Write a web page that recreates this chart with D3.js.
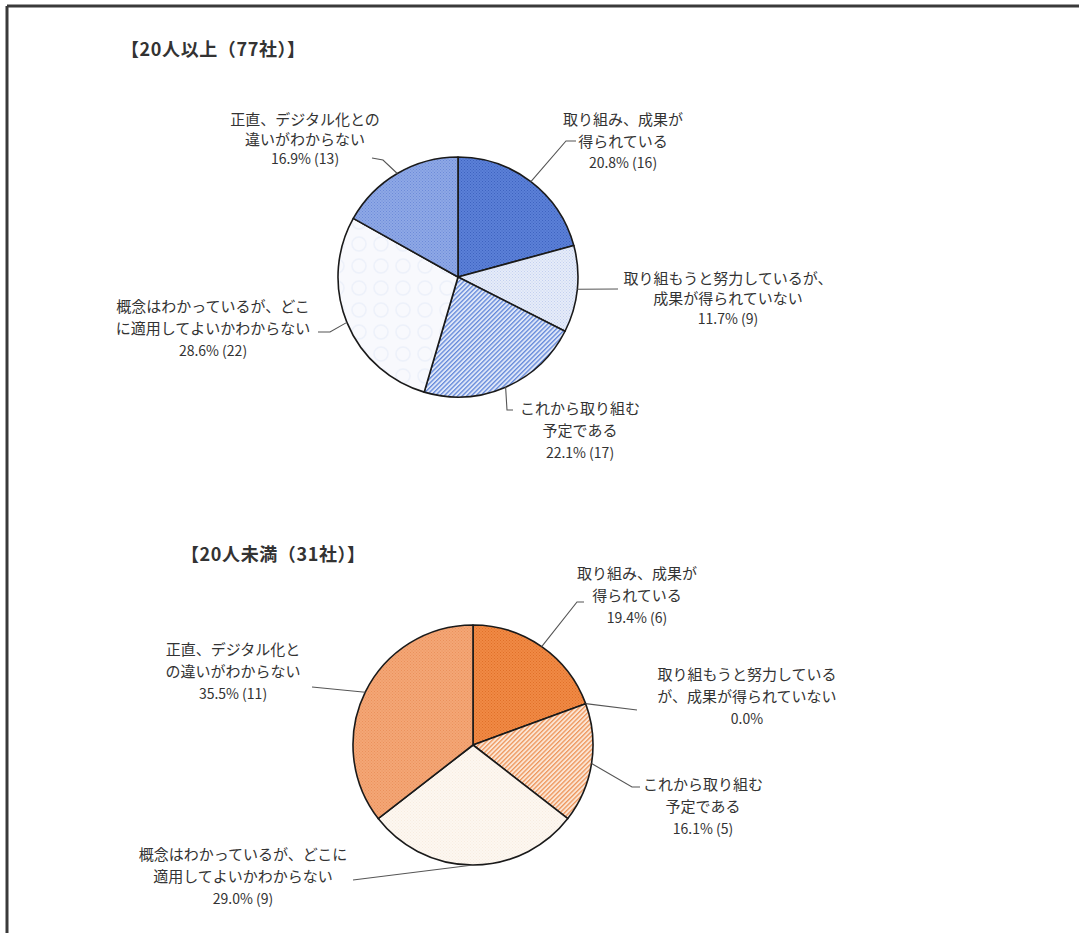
<!DOCTYPE html>
<html lang="ja">
<head>
<meta charset="utf-8">
<script src="https://cdn.jsdelivr.net/npm/d3@7"></script>
<style>
  html, body { margin: 0; padding: 0; background: #ffffff; }
  svg { display: block; }
  text { font-family: "Noto Sans CJK JP", "Noto Sans", sans-serif; fill: #333333; }
</style>
</head>
<body>
<svg id="chart" width="1079" height="933"></svg>
<script>
// ---- data ----
const titleTop = "【20人以上（77社）】";
const titleBottom = "【20人未満（31社）】";

// answers, in clockwise order from 12 o'clock
const categories = [
  "取り組み、成果が得られている",
  "取り組もうと努力しているが、成果が得られていない",
  "これから取り組む予定である",
  "概念はわかっているが、どこに適用してよいかわからない",
  "正直、デジタル化との違いがわからない"
];

// 20人以上
const countsTop  = [16, 9, 17, 22, 13];
const percentTop = [20.8, 11.7, 22.1, 28.6, 16.9];
const linesTop = [
  ["取り組み、成果が", "得られている"],
  ["取り組もうと努力しているが、", "成果が得られていない"],
  ["これから取り組む", "予定である"],
  ["概念はわかっているが、どこ", "に適用してよいかわからない"],
  ["正直、デジタル化との", "違いがわからない"]
];

// 20人未満
const countsBottom  = [6, 0, 5, 9, 11];
const percentBottom = [19.4, 0.0, 16.1, 29.0, 35.5];
const linesBottom = [
  ["取り組み、成果が", "得られている"],
  ["取り組もうと努力している", "が、成果が得られていない"],
  ["これから取り組む", "予定である"],
  ["概念はわかっているが、どこに", "適用してよいかわからない"],
  ["正直、デジタル化と", "の違いがわからない"]
];

// ---- layout ----
const radius = 120;
const pieTop    = { cx: 458, cy: 277, title: [121, 48] };
const pieBottom = { cx: 473, cy: 745, title: [181, 553] };

// label block: first-line centre (x,y), line step, leader bends after the edge point
const labelTop = [
  { x: 623, y: 118, step: 22, bends: [[566, 141], [576, 141]] },
  { x: 728, y: 277, step: 20.5, bends: [[618, 289]] },
  { x: 580, y: 407, step: 22.5, bends: [[507, 410], [513, 410]] },
  { x: 213, y: 305, step: 22.5, bends: [[330, 332], [318, 332]] },
  { x: 305, y: 118, step: 20, bends: [[383, 160], [372, 158]] }
];
const labelBottom = [
  { x: 637, y: 572, step: 22.5, bends: [[577, 602], [584, 602]] },
  { x: 747, y: 673, step: 22.5, bends: [[637, 710]] },
  { x: 703, y: 783, step: 22.5, bends: [[632, 787], [640, 787]] },
  { x: 243, y: 853, step: 22.5, bends: [[353, 880]] },
  { x: 233, y: 648, step: 22.5, bends: [[312, 687]] }
];

const svg = d3.select("#chart");
const defs = svg.append("defs");

// ---- fill textures ----
function dotPattern(id, bg, dot) {
  const p = defs.append("pattern").attr("id", id)
    .attr("patternUnits", "userSpaceOnUse").attr("width", 3).attr("height", 3);
  p.append("rect").attr("width", 3).attr("height", 3).attr("fill", bg);
  p.append("rect").attr("x", 0).attr("y", 0).attr("width", 1).attr("height", 1).attr("fill", dot);
  p.append("rect").attr("x", 1.5).attr("y", 1.5).attr("width", 1).attr("height", 1).attr("fill", dot);
}
function hatchPattern(id, bg, line) {
  const p = defs.append("pattern").attr("id", id)
    .attr("patternUnits", "userSpaceOnUse").attr("width", 3.2).attr("height", 10)
    .attr("patternTransform", "rotate(45)");
  p.append("rect").attr("width", 3.2).attr("height", 10).attr("fill", bg);
  p.append("rect").attr("x", 0).attr("y", 0).attr("width", 1.3).attr("height", 10).attr("fill", line);
}
function ringPattern(id, bg, ring) {
  const p = defs.append("pattern").attr("id", id)
    .attr("patternUnits", "userSpaceOnUse").attr("width", 22).attr("height", 22);
  p.append("rect").attr("width", 22).attr("height", 22).attr("fill", bg);
  p.append("circle").attr("cx", 11).attr("cy", 11).attr("r", 7).attr("fill", "none")
    .attr("stroke", ring).attr("stroke-width", 1.5);
}

dotPattern("b1", "#5b80d8", "#3e63bf");
dotPattern("b2", "#e6ecf9", "#c3d0ef");
hatchPattern("b3", "#dfe7f8", "#6388da");
ringPattern("b4", "#f8f9fd", "#edf1fa");
dotPattern("b5", "#8ea8e6", "#6d8bd8");

dotPattern("o1", "#f08a45", "#e06f28");
dotPattern("o2", "#fde6d4", "#f6c9a6");
hatchPattern("o3", "#fbe6d6", "#ee955a");
dotPattern("o4", "#fdf7f0", "#f7ece0");
dotPattern("o5", "#f4a676", "#ea915b");

const fillsTop = ["url(#b1)", "url(#b2)", "url(#b3)", "url(#b4)", "url(#b5)"];
const fillsBottom = ["url(#o1)", "url(#o2)", "url(#o3)", "url(#o4)", "url(#o5)"];

// ---- frame ----
svg.append("line").attr("x1", 7).attr("y1", 6).attr("x2", 1079).attr("y2", 6)
  .attr("stroke", "#3a3a3a").attr("stroke-width", 3);
svg.append("line").attr("x1", 7).attr("y1", 6).attr("x2", 7).attr("y2", 933)
  .attr("stroke", "#3a3a3a").attr("stroke-width", 3);

// ---- pies ----
const pie = d3.pie().sort(null).value(d => d.pct).startAngle(0).endAngle(2 * Math.PI);
const arc = d3.arc().innerRadius(0).outerRadius(radius);
const fmt = d3.format(".1f");

function drawPie(conf, title, counts, pcts, lines, fills, labels) {
  svg.append("text")
    .attr("x", conf.title[0]).attr("y", conf.title[1])
    .attr("dominant-baseline", "central")
    .attr("font-size", 18).attr("font-weight", "bold").attr("fill", "#222")
    .attr("letter-spacing", 0.6)
    .text(title);

  const data = categories.map((c, i) => ({ cat: c, count: counts[i], pct: pcts[i], i }));
  const arcs = pie(data);
  const g = svg.append("g").attr("transform", `translate(${conf.cx},${conf.cy})`);

  g.selectAll("path.slice").data(arcs.filter(a => a.data.pct > 0)).join("path")
    .attr("class", "slice")
    .attr("d", arc)
    .attr("fill", d => fills[d.data.i])
    .attr("stroke", "#1a1a1a").attr("stroke-width", 1.6).attr("stroke-linejoin", "round");

  arcs.forEach(a => {
    const i = a.data.i;
    const lab = labels[i];
    const mid = (a.startAngle + a.endAngle) / 2;
    const edge = [conf.cx + radius * Math.sin(mid), conf.cy - radius * Math.cos(mid)];
    const pts = [edge].concat(lab.bends);
    svg.append("path")
      .attr("d", d3.line()(pts))
      .attr("fill", "none").attr("stroke", "#555").attr("stroke-width", 1.1);

    const t = svg.append("text")
      .attr("text-anchor", "middle")
      .attr("font-size", 15);
    const rows = lines[i].slice();
    rows.push(a.data.count > 0
      ? `${fmt(a.data.pct)}% (${a.data.count})`
      : `${fmt(a.data.pct)}%`);
    rows.forEach((r, k) => {
      t.append("tspan")
        .attr("x", lab.x)
        .attr("y", lab.y + k * lab.step)
        .attr("dominant-baseline", "central")
        .attr("font-size", k === rows.length - 1 ? 14 : 15)
        .text(r);
    });
  });
}

drawPie(pieTop, titleTop, countsTop, percentTop, linesTop, fillsTop, labelTop);
drawPie(pieBottom, titleBottom, countsBottom, percentBottom, linesBottom, fillsBottom, labelBottom);
</script>
</body>
</html>
